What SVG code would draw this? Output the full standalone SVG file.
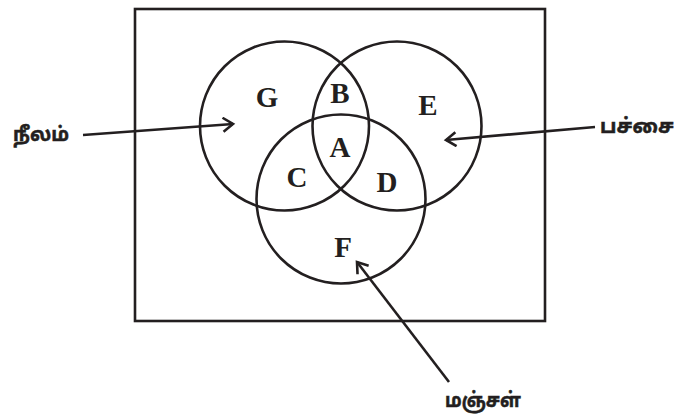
<svg xmlns="http://www.w3.org/2000/svg" width="676" height="415" viewBox="0 0 676 415">
<style>
.ln{fill:none;stroke:#231f20;stroke-width:2.6}
.lt{font-family:"Liberation Serif","Times New Roman",serif;font-weight:bold;font-size:29px;fill:#231f20;text-anchor:middle}
.tm{font-family:"Noto Sans Tamil","Lohit Tamil","Noto Sans",sans-serif;font-weight:bold;font-size:20px;fill:#231f20;stroke:#231f20;stroke-width:0.5}
</style>
<defs>
<marker id="ah" markerUnits="userSpaceOnUse" markerWidth="16" markerHeight="16" refX="13" refY="8" orient="auto">
<path d="M3,1 L13,8 L3,15" fill="none" stroke="#231f20" stroke-width="2.6"/>
</marker>
</defs>
<rect class="ln" x="135" y="9" width="410" height="312"/>
<g id="set-blue"><circle class="ln" cx="284.5" cy="126" r="84.5"/></g>
<g id="set-green"><circle class="ln" cx="397" cy="126" r="84.5"/></g>
<g id="set-yellow"><circle class="ln" cx="341" cy="199" r="84.5"/></g>
<g id="regions">
<text class="lt" x="267" y="107">G</text>
<text class="lt" x="340" y="103">B</text>
<text class="lt" x="428" y="115">E</text>
<text class="lt" x="340" y="157">A</text>
<text class="lt" x="297" y="187">C</text>
<text class="lt" x="387" y="192">D</text>
<text class="lt" x="343" y="257">F</text>
</g>
<g id="label-blue"><text class="tm" x="13" y="141" textLength="56" lengthAdjust="spacingAndGlyphs">நீலம்</text></g>
<g id="label-green"><text class="tm" x="600" y="133" textLength="74" lengthAdjust="spacingAndGlyphs">பச்சை</text></g>
<g id="label-yellow"><text class="tm" x="445" y="407" textLength="76" lengthAdjust="spacingAndGlyphs">மஞ்சள்</text></g>
<g id="connectors">
<line class="ln" x1="83" y1="135" x2="233" y2="124" marker-end="url(#ah)"/>
<line class="ln" x1="595" y1="127" x2="446" y2="140" marker-end="url(#ah)"/>
<line class="ln" x1="449" y1="382" x2="357" y2="262" marker-end="url(#ah)"/>
</g>
</svg>
